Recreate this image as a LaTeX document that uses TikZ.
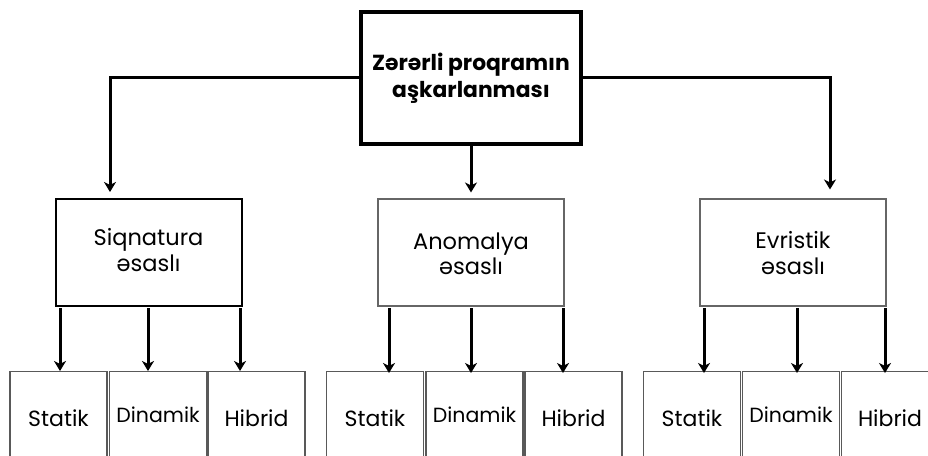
\documentclass[tikz,border=0pt]{standalone}
\usepackage{fontspec}
\setmainfont{Poppins}
\usetikzlibrary{arrows.meta}
\begin{document}
\begin{tikzpicture}[x=1pt,y=-1pt,
  link/.style={line width=3pt,-{Stealth[length=10pt,width=12pt,inset=3pt]}},
  rootbox/.style={draw,line width=3.2pt,minimum width=220pt,minimum height=132pt,
    align=center,font=\fontsize{21.8}{27}\selectfont\bfseries},
  catbox/.style={draw,minimum width=186pt,minimum height=107pt},
  cattext/.style={align=center,font=\fontsize{22.5}{25.5}\selectfont},
  leafbox/.style={draw=black!65,line width=1.1pt,minimum width=97pt,minimum height=100pt,
    anchor=north},
  leaftext/.style={font=\fontsize{22}{24}\selectfont},
  dyntext/.style={font=\fontsize{20.5}{24}\selectfont}]
\useasboundingbox (0,0) rectangle (928,455);
\clip (0,0) rectangle (928,455);
\fill[white] (0,0) rectangle (928,455);

% root
\node[rootbox] (root) at (471,78) {Zərərli proqramın\\aşkarlanması};

% categories
\node[catbox,line width=2pt] (sig) at (148.5,252.5) {};
\node[cattext] (sigt) at (148.5,250) {Siqnatura\\əsaslı};
\node[catbox,draw=black!60,line width=1.1pt] (ano) at (471,252.5) {};
\node[cattext] (anot) at (471,254) {Anomalya\\əsaslı};
\node[catbox,draw=black!60,line width=1.1pt] (evr) at (793,252.5) {};
\node[cattext] (evrt) at (793,253) {Evristik\\əsaslı};

% root connectors
\coordinate (rl) at (110,77);
\coordinate (rr) at (830,77);
\draw[link] (root.west |- rl) -- (rl) -- ([yshift=6pt]rl |- sig.north);
\draw[link] (root.east |- rr) -- (rr) -- ([yshift=9pt]rr |- evr.north);
\draw[link] (root.south) -- ([yshift=6pt]root.south |- ano.north);

% leaves
\foreach \p/\a/\b/\c/\xa/\xb/\xc/\ya in
  {sig/58.5/158/256.5/60/148/240/371,
   ano/375/474.5/573.5/389/471/563/373,
   evr/692/791/890/704/797/885/373}{
  \node[leafbox] (\p s) at (\a,371) {};
  \node[leaftext] (\p st) at (\a,418) {Statik};
  \node[leafbox] (\p d) at (\b,371) {};
  \node[dyntext] (\p dt) at (\b,415) {Dinamik};
  \node[leafbox] (\p h) at (\c,371) {};
  \node[leaftext] (\p ht) at (\c,418) {Hibrid};
  \draw[link] (\xa,308) -- (\xa,\ya);
  \draw[link] (\xb,308) -- (\xb,\ya);
  \draw[link] (\xc,308) -- (\xc,\ya);
}
\end{tikzpicture}
\end{document}
